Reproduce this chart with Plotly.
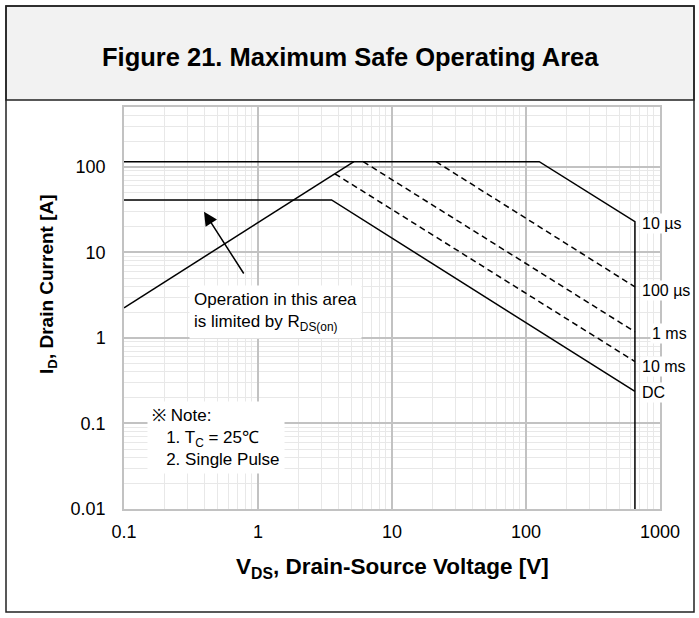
import math
import plotly.graph_objects as go

# ---------------- data ----------------
# Pulse current limit (10 us) incl. the voltage limit at 650 V
v_10us = [0.1, 125.6, 650, 650]
i_10us = [115, 115, 22.9, 0.01]
# 100 us pulse
v_100us = [21.3, 650]
i_100us = [115, 3.95]
# 1 ms pulse
v_1ms = [6.1, 650]
i_1ms = [115, 1.18]
# 10 ms pulse
v_10ms = [3.75, 650]
i_10ms = [83, 0.53]
# DC
v_dc = [0.1, 3.54, 650]
i_dc = [41, 41, 0.237]
# R_DS(on) limit
v_rds = [0.1, 5.2]
i_rds = [2.25, 115]

x_tick_vals = [0.1, 1, 10, 100, 1000]
x_tick_text = ["0.1", "1", "10", "100", "1000"]
y_tick_vals = [0.01, 0.1, 1, 10, 100]
y_tick_text = ["0.01", "0.1", "1", "10", "100"]

curve_labels = ["10 µs", "100 µs", "1 ms", "10 ms", "DC"]

# ---------------- layout geometry ----------------
W, H = 699, 618
L, R, T, B = 124, 660, 107, 509
FONT = "Liberation Sans, Arial, Helvetica, sans-serif"


def px(x):
    return (x - L) / (R - L)


def py(y):
    return (B - y) / (B - T)


def lx(xpix):
    return (xpix - L) / (R - L) * 4 - 1


def ly(ypix):
    return (B - ypix) / (B - T) * 4.7 - 2


def minor_vals(lo, hi):
    out = []
    for e in range(lo, hi):
        for m in range(2, 10):
            out.append(m * 10 ** e)
    return out


fig = go.Figure()

line_k = dict(color="black", width=1.5)
dash_k = dict(color="black", width=1.5, dash="6px,4px")

fig.add_trace(go.Scatter(x=v_rds, y=i_rds, mode="lines", line=line_k))
fig.add_trace(go.Scatter(x=v_10us, y=i_10us, mode="lines", line=line_k))
fig.add_trace(go.Scatter(x=v_100us, y=i_100us, mode="lines", line=dash_k))
fig.add_trace(go.Scatter(x=v_1ms, y=i_1ms, mode="lines", line=dash_k))
fig.add_trace(go.Scatter(x=v_10ms, y=i_10ms, mode="lines", line=dash_k))
fig.add_trace(go.Scatter(x=v_dc, y=i_dc, mode="lines", line=line_k))

grid_major = "#c2c2c2"
grid_minor = "#e8e8e8"

fig.update_xaxes(
    type="log", range=[-1, 3],
    tickvals=x_tick_vals, ticktext=x_tick_text,
    showgrid=True, gridcolor=grid_major, gridwidth=1.5,
    minor=dict(tickvals=minor_vals(-1, 3), showgrid=True,
               gridcolor=grid_minor, gridwidth=1, ticks=""),
    showline=True, linecolor=grid_major, linewidth=1.5, mirror=True,
    ticks="", ticklabelstandoff=6,
    tickfont=dict(family=FONT, size=18, color="black"),
    zeroline=False,
)
fig.update_yaxes(
    type="log", range=[-2, 2.7],
    tickvals=y_tick_vals, ticktext=y_tick_text,
    showgrid=True, gridcolor=grid_major, gridwidth=1.5,
    minor=dict(tickvals=minor_vals(-2, 3), showgrid=True,
               gridcolor=grid_minor, gridwidth=1, ticks=""),
    showline=True, linecolor=grid_major, linewidth=1.5, mirror=True,
    ticks="", ticklabelstandoff=13,
    tickfont=dict(family=FONT, size=18, color="black"),
    zeroline=False,
)

annotations = []

# curve labels at the right end (pixel anchors converted to log10 axis units)
label_pos = [
    (642, 223), (642, 290.7), (652, 333), (642, 366.7), (642, 392.7)
]

for txt, (xp, yp) in zip(curve_labels, label_pos):
    annotations.append(dict(
        x=lx(xp - 2), y=ly(yp), xref="x", yref="y", text=txt,
        showarrow=False, xanchor="left", yanchor="middle",
        bgcolor="white", borderpad=1,
        font=dict(family=FONT, size=16, color="black"),
    ))

# R_DS(on) note
annotations.append(dict(
    x=lx(189), y=ly(311.5), xref="x", yref="y",
    text="Operation in this area<br>is limited by R<sub>DS(on)</sub>",
    showarrow=False, xanchor="left", yanchor="middle", align="left",
    bgcolor="white", borderpad=4,
    font=dict(family=FONT, size=17, color="black"),
))
# arrow
annotations.append(dict(
    x=lx(204), y=ly(211.7), xref="x", yref="y",
    ax=lx(244.7), ay=ly(275), axref="x", ayref="y",
    text="", showarrow=True, arrowhead=2, arrowsize=1.8,
    arrowwidth=1.5, arrowcolor="black", standoff=0,
))
# test condition note
annotations.append(dict(
    x=lx(147), y=ly(437), xref="x", yref="y",
    text="※ Note:<br>&nbsp;&nbsp;&nbsp;1. T<sub>C</sub> = 25℃<br>&nbsp;&nbsp;&nbsp;2. Single Pulse",
    showarrow=False, xanchor="left", yanchor="middle", align="left",
    bgcolor="white", borderpad=4,
    font=dict(family=FONT, size=17, color="black"),
))

# axis titles
annotations.append(dict(
    x=px(392.5), y=py(568), xref="paper", yref="paper",
    text="<b>V<sub>DS</sub>, Drain-Source Voltage [V]</b>",
    showarrow=False, xanchor="center", yanchor="middle",
    font=dict(family=FONT, size=22.5, color="black"),
))
annotations.append(dict(
    x=px(48), y=py(284), xref="paper", yref="paper",
    text="<b>I<sub>D</sub>, Drain Current [A]</b>", textangle=-90,
    showarrow=False, xanchor="center", yanchor="middle",
    font=dict(family=FONT, size=19, color="black"),
))
# figure title
annotations.append(dict(
    x=px(350), y=py(57), xref="paper", yref="paper",
    text="<b>Figure 21. Maximum Safe Operating Area</b>",
    showarrow=False, xanchor="center", yanchor="middle",
    font=dict(family=FONT, size=25.5, color="black"),
))

shapes = [
    # title band
    dict(type="rect", xref="paper", yref="paper",
         x0=px(6), x1=px(694), y0=py(100), y1=py(6),
         fillcolor="#f2f2f2", line=dict(color="#222", width=1.5),
         layer="below"),
    # outer frame
    dict(type="rect", xref="paper", yref="paper",
         x0=px(6), x1=px(694), y0=py(612), y1=py(6),
         fillcolor="rgba(0,0,0,0)", line=dict(color="#222", width=1.5),
         layer="above"),
]

fig.update_layout(
    width=W, height=H,
    margin=dict(l=L, r=W - R, t=T, b=H - B),
    paper_bgcolor="white", plot_bgcolor="white",
    showlegend=False,
    annotations=annotations,
    shapes=shapes,
    font=dict(family=FONT, color="black"),
)

fig.write_html(
    "out.html",
    config={"displayModeBar": False},
    post_script="document.body.style.margin='0';document.body.style.overflow='hidden';",
)
